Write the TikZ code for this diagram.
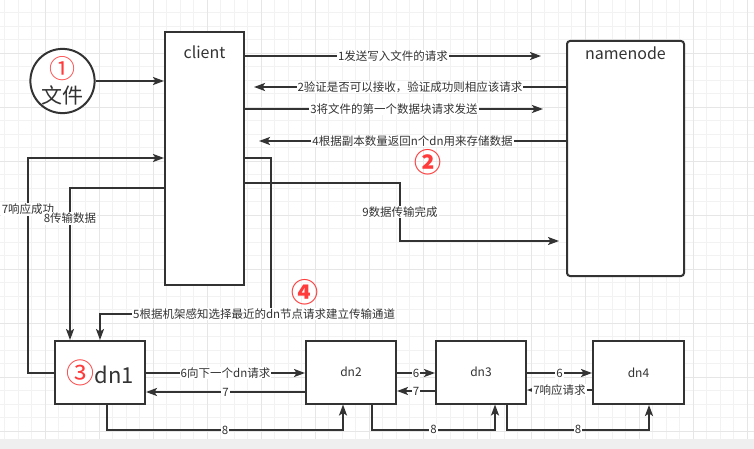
\documentclass[tikz,border=0pt]{standalone}
\usepackage{fontspec}
\setmainfont{Noto Sans CJK SC}
\usepackage{xcolor}
\usetikzlibrary{arrows.meta, calc, positioning}
\definecolor{ln}{HTML}{333333}
\definecolor{numred}{HTML}{FF3B3B}
\definecolor{gridmin}{HTML}{F2F2F2}
\definecolor{gridmaj}{HTML}{E6E6E6}
\definecolor{band}{HTML}{EFEFEF}
\tikzset{
    blkbox/.style={draw=ln, line width=2pt, fill=white, inner sep=0pt},
    dnbox/.style={blkbox, minimum width=90pt, minimum height=63pt, font=\fontsize{12}{14}\selectfont, text=ln},
    filec/.style={draw=ln, line width=2pt, fill=white, circle, minimum size=62pt, inner sep=0pt, align=center, text=ln, font=\fontsize{21}{25}\selectfont},
    ttl/.style={font=\fontsize{16}{18}\selectfont, text=ln, inner sep=0pt},
    lab/.style={fill=white, inner sep=1pt, font=\fontsize{11.5}{13}\selectfont, text=ln},
    bignum/.style={text=numred, font=\bfseries\fontsize{27}{27}\selectfont, inner sep=0pt},
    flow/.style={draw=ln, line width=2pt, -{Stealth[length=11pt, width=8pt, inset=2.5pt]}}
}

\begin{document}
\begin{tikzpicture}[x=1pt, y=-1pt]
    \useasboundingbox (0,0) rectangle (754,449);
    % grid
    \foreach \x in {4.5,18,...,754} \draw[gridmin, line width=1pt] (\x,0) -- (\x,439);
    \foreach \y in {12.7,26.2,...,439} \draw[gridmin, line width=1pt] (0,\y) -- (754,\y);
    \foreach \x in {45,99,...,754} \draw[gridmaj, line width=1pt] (\x,0) -- (\x,439);
    \foreach \y in {53.2,107.2,...,439} \draw[gridmaj, line width=1pt] (0,\y) -- (754,\y);
    \fill[band] (0,439) rectangle (754,449);

    \node[filec] (file) at (62.5,81) {{\fontsize{26}{25}\selectfont\color{numred}①}\\文件};
    \node[blkbox, minimum width=79pt, minimum height=253pt, label={[ttl, anchor=base, yshift=-28pt]north:client}] (client) at (204.5,158.5) {};
    \node[blkbox, rounded corners=3pt, minimum width=117pt, minimum height=235pt, label={[ttl, anchor=base, yshift=-20pt]north:namenode}] (nn) at (625.5,158.5) {};
    \node[dnbox, font=\fontsize{22}{24}\selectfont] (dn1) at (100,372.5) {{\fontsize{28}{28}\selectfont\color{numred}③}dn1};
    \node[dnbox] (dn2) at (351,372) {dn2};
    \node[dnbox] (dn3) at (481,372) {dn3};
    \node[dnbox, minimum width=91pt] (dn4) at (638.5,372.5) {dn4};
    \node[bignum] (num2) at (428,162) {②};
    \node[bignum] (num4) at (305,292) {④};

    \draw[flow] (file) -- (file -| client.west);
    \draw[flow] (client.east |- 0,56) -- ([xshift=-25pt]nn.west |- 0,56) node[midway, lab] {1发送写入文件的请求};
    \draw[flow] (nn.west |- 0,87) -- ([xshift=9pt]client.east |- 0,87) node[midway, lab] {2验证是否可以接收，验证成功则相应该请求};
    \draw[flow] (client.east |- 0,109) -- ([xshift=-23pt]nn.west |- 0,109) node[midway, lab] {3将文件的第一个数据块请求发送};
    \draw[flow] (nn.west |- 0,141) -- ([xshift=14pt]client.east |- 0,141) node[midway, lab] {4根据副本数量返回n个dn用来存储数据};
    \draw[flow] (client.east |- 0,183) -| node[pos=0.75, lab] {9数据传输完成} (400,241) -- ([xshift=-7pt]nn.west |- 0,241);
    \draw[flow] (client.east |- 0,158) -| (271,314) -| node[pos=0.02, lab] {5根据机架感知选择最近的dn节点请求建立传输通道} (dn1.north);
    \draw[flow] (dn1.west) -| node[pos=0.88, lab] {7响应成功} (28,158) -- (client.west |- 0,158);
    \draw[flow] (client.west |- 0,188) -| node[pos=0.6, lab] {8传输数据} ([xshift=-30pt]dn1.north);

    \draw[flow] (dn1.east |- 0,373) -- (dn2.west |- 0,373) node[midway, lab] {6向下一个dn请求};
    \draw[flow] (dn2.west |- 0,392) -- (dn1.east |- 0,392) node[midway, lab] {7};
    \draw[flow] ([xshift=7pt]dn1.south) -- ++(0,25) -| node[pos=0.25, lab] {8} ([xshift=-8pt]dn2.south);
    \draw[flow] (dn2.east |- 0,373) -- (dn3.west |- 0,373) node[midway, lab] {6};
    \draw[flow] (dn3.west |- 0,391) -- (dn2.east |- 0,391) node[midway, lab] {7};
    \draw[flow] ([xshift=21pt]dn2.south) -- ++(0,25) -| node[pos=0.25, lab] {8} ([xshift=14pt]dn3.south);
    \draw[flow] (dn3.east |- 0,373) -- (dn4.west |- 0,373) node[midway, lab] {6};
    \draw[flow] (dn4.west |- 0,390) -- (dn3.east |- 0,390) node[midway, lab] {7响应请求};
    \draw[flow] ([xshift=26pt]dn3.south) -- ++(0,25) -| node[pos=0.25, lab] {8} ([xshift=10.5pt]dn4.south);
\end{tikzpicture}
\end{document}
